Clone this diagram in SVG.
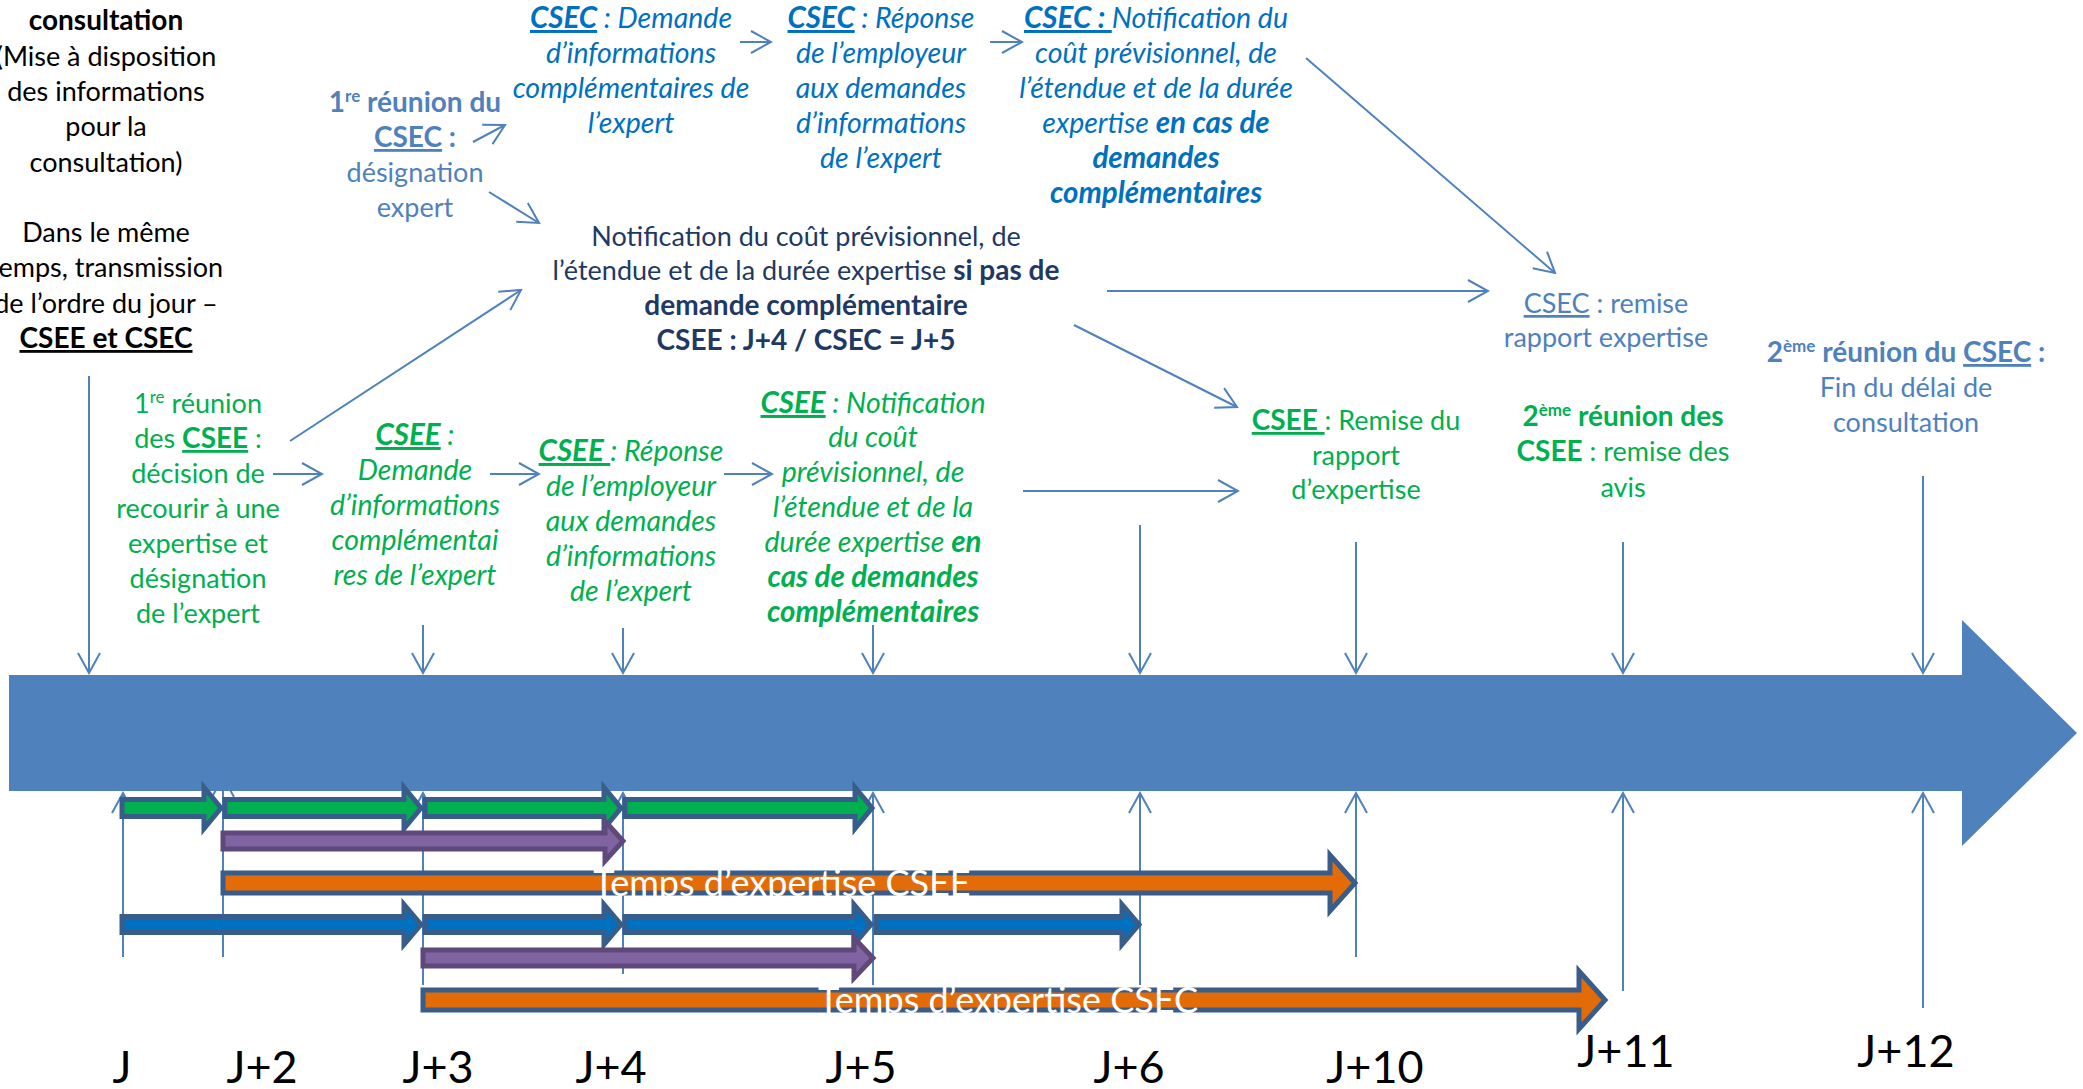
<svg xmlns="http://www.w3.org/2000/svg" width="2083" height="1089" viewBox="0 0 2083 1089">
<style>
text{font-family:Lato,"Open Sans","Liberation Sans",sans-serif;font-size:27px;text-anchor:middle}
.k{fill:#000}.sb{fill:#4F81BD}.cb{fill:#0070C0}.gr{fill:#00B050}.nv{fill:#1F3864}
.b{font-weight:bold;font-size:28px}.i{font-style:italic;font-size:28.5px}.i.b{font-size:29.5px}.u{text-decoration:underline}
.sup{font-size:17px}
.lbl{font-size:45px;fill:#000}
.tw{font-size:36px;fill:#fff}
.cn{stroke:#4F81BD;stroke-width:2;fill:none}
.ba{stroke:#385D8A;stroke-width:5;stroke-linejoin:miter}
.g{fill:#00B050}.p{fill:#8064A2;stroke:#5F497A}.o{fill:#E36C09}.bl{fill:#0070C0}
</style>
<defs>
<marker id="ah" markerUnits="userSpaceOnUse" markerWidth="24" markerHeight="24" viewBox="0 0 24 24" refX="22" refY="12" orient="auto">
<path d="M2,1 L22,12 L2,23" fill="none" stroke="#4F81BD" stroke-width="2"/>
</marker>
</defs>

<g id="timeline-bar">
<polygon points="9,675 1962,675 1962,620 2077,733 1962,846 1962,791 9,791" fill="#4F81BD"/>
</g>

<g id="connectors">
<line class="cn" x1="473" y1="142" x2="505" y2="125" marker-end="url(#ah)"/>
<line class="cn" x1="489" y1="192" x2="539" y2="223" marker-end="url(#ah)"/>
<line class="cn" x1="290" y1="441" x2="521" y2="290" marker-end="url(#ah)"/>
<line class="cn" x1="740" y1="42" x2="771" y2="42" marker-end="url(#ah)"/>
<line class="cn" x1="990" y1="42" x2="1022" y2="42" marker-end="url(#ah)"/>
<line class="cn" x1="1306" y1="58" x2="1555" y2="273" marker-end="url(#ah)"/>
<line class="cn" x1="1107" y1="291" x2="1488" y2="291" marker-end="url(#ah)"/>
<line class="cn" x1="1074" y1="325" x2="1237" y2="407" marker-end="url(#ah)"/>
<line class="cn" x1="273" y1="474" x2="322" y2="474" marker-end="url(#ah)"/>
<line class="cn" x1="490" y1="474" x2="539" y2="474" marker-end="url(#ah)"/>
<line class="cn" x1="724" y1="474" x2="772" y2="474" marker-end="url(#ah)"/>
<line class="cn" x1="1023" y1="491" x2="1238" y2="491" marker-end="url(#ah)"/>
<!-- down arrows onto bar -->
<line class="cn" x1="89" y1="376" x2="89" y2="673" marker-end="url(#ah)"/>
<line class="cn" x1="423" y1="625" x2="423" y2="673" marker-end="url(#ah)"/>
<line class="cn" x1="623" y1="628" x2="623" y2="673" marker-end="url(#ah)"/>
<line class="cn" x1="873" y1="625" x2="873" y2="673" marker-end="url(#ah)"/>
<line class="cn" x1="1140" y1="525" x2="1140" y2="673" marker-end="url(#ah)"/>
<line class="cn" x1="1356" y1="542" x2="1356" y2="673" marker-end="url(#ah)"/>
<line class="cn" x1="1623" y1="542" x2="1623" y2="673" marker-end="url(#ah)"/>
<line class="cn" x1="1923" y1="476" x2="1923" y2="673" marker-end="url(#ah)"/>
<!-- up arrows from below -->
<line class="cn" x1="123" y1="957" x2="123" y2="793" marker-end="url(#ah)"/>
<line class="cn" x1="223" y1="957" x2="223" y2="777" marker-end="url(#ah)"/>
<line class="cn" x1="423" y1="985" x2="423" y2="793" marker-end="url(#ah)"/>
<line class="cn" x1="623" y1="974" x2="623" y2="793" marker-end="url(#ah)"/>
<line class="cn" x1="873" y1="985" x2="873" y2="793" marker-end="url(#ah)"/>
<line class="cn" x1="1140" y1="985" x2="1140" y2="793" marker-end="url(#ah)"/>
<line class="cn" x1="1356" y1="957" x2="1356" y2="793" marker-end="url(#ah)"/>
<line class="cn" x1="1623" y1="991" x2="1623" y2="793" marker-end="url(#ah)"/>
<line class="cn" x1="1923" y1="1008" x2="1923" y2="793" marker-end="url(#ah)"/>
</g>

<g id="duration-arrows">
<!-- green row cy 808 -->
<polygon class="ba g" points="122,799.5 204,799.5 204,787.5 221,808 204,828.5 204,816.5 122,816.5"/>
<polygon class="ba g" points="225,799.5 404,799.5 404,787.5 421,808 404,828.5 404,816.5 225,816.5"/>
<polygon class="ba g" points="425,799.5 604,799.5 604,787.5 621,808 604,828.5 604,816.5 425,816.5"/>
<polygon class="ba g" points="625,799.5 855,799.5 855,787.5 872,808 855,828.5 855,816.5 625,816.5"/>
<!-- purple row 1 cy 841 -->
<polygon class="ba p" points="223,833 605,833 605,821 623,841 605,861 605,849 223,849"/>
<!-- orange CSEE cy 883 -->
<polygon class="ba o" points="223,873 1330,873 1330,855 1355,883 1330,911 1330,893 223,893"/>
<!-- blue row cy 924.5 -->
<polygon class="ba bl" points="122,916.5 404,916.5 404,904.5 421,924.5 404,944.5 404,932.5 122,932.5"/>
<polygon class="ba bl" points="425,916.5 604,916.5 604,904.5 621,924.5 604,944.5 604,932.5 425,932.5"/>
<polygon class="ba bl" points="625,916.5 854,916.5 854,904.5 871,924.5 854,944.5 854,932.5 625,932.5"/>
<polygon class="ba bl" points="876,916.5 1122,916.5 1122,904.5 1139,924.5 1122,944.5 1122,932.5 876,932.5"/>
<!-- purple row 2 cy 958 -->
<polygon class="ba p" points="423,950 854,950 854,938 873,958 854,978 854,966 423,966"/>
<!-- orange CSEC cy 1000 -->
<polygon class="ba o" points="423,990 1579,990 1579,971 1605,1000 1579,1029 1579,1010 423,1010"/>
<text class="tw" x="782" y="896">Temps d’expertise CSEE</text>
<text class="tw" x="1008" y="1013">Temps d’expertise CSEC</text>
</g>

<g id="node-consultation">
<text x="106" y="30" class="k b">consultation</text>
<text x="106" y="66" class="k">(Mise à disposition</text>
<text x="106" y="101" class="k">des informations</text>
<text x="106" y="136" class="k">pour la</text>
<text x="106" y="172" class="k">consultation)</text>
<text x="106" y="242" class="k">Dans le même</text>
<text x="106" y="277" class="k">temps, transmission</text>
<text x="106" y="313" class="k">de l’ordre du jour –</text>
<text x="106" y="348" class="k b u">CSEE et CSEC</text>
</g>

<g id="node-csec-reunion1">
<text x="415" y="112" class="sb b">1<tspan class="sup" dy="-10">re</tspan><tspan dy="10"> réunion du</tspan></text>
<text x="415" y="147" class="sb b"><tspan class="u">CSEC</tspan> :</text>
<text x="415" y="182" class="sb">désignation</text>
<text x="415" y="217" class="sb">expert</text>
</g>

<g id="node-csec-demande">
<text x="631" y="28" class="cb i"><tspan class="i b u">CSEC</tspan> : Demande</text>
<text x="631" y="63" class="cb i">d’informations</text>
<text x="631" y="98" class="cb i">complémentaires de</text>
<text x="631" y="133" class="cb i">l’expert</text>
</g>

<g id="node-csec-reponse">
<text x="881" y="28" class="cb i"><tspan class="i b u">CSEC</tspan> : Réponse</text>
<text x="881" y="63" class="cb i">de l’employeur</text>
<text x="881" y="98" class="cb i">aux demandes</text>
<text x="881" y="133" class="cb i">d’informations</text>
<text x="881" y="168" class="cb i">de l’expert</text>
</g>

<g id="node-csec-notification">
<text x="1156" y="28" class="cb i"><tspan class="i b u">CSEC : </tspan>Notification du</text>
<text x="1156" y="63" class="cb i">coût prévisionnel, de</text>
<text x="1156" y="98" class="cb i">l’étendue et de la  durée</text>
<text x="1156" y="133" class="cb i">expertise <tspan class="i b">en cas de</tspan></text>
<text x="1156" y="168" class="cb i b">demandes</text>
<text x="1156" y="203" class="cb i b">complémentaires</text>
</g>

<g id="node-notification">
<text x="806" y="246" class="nv">Notification du coût prévisionnel, de</text>
<text x="806" y="280" class="nv">l’étendue et de la durée expertise <tspan class="b">si pas de</tspan></text>
<text x="806" y="315" class="nv b">demande complémentaire</text>
<text x="806" y="350" class="nv b">CSEE : J+4 / CSEC = J+5</text>
</g>

<g id="node-csec-remise">
<text x="1606" y="313" class="sb"><tspan class="u">CSEC</tspan> : remise</text>
<text x="1606" y="347" class="sb">rapport expertise</text>
</g>

<g id="node-csec-reunion2">
<text x="1906" y="362" class="sb b">2<tspan class="sup" dy="-10">ème</tspan><tspan dy="10"> réunion du </tspan><tspan class="u">CSEC</tspan>  :</text>
<text x="1906" y="397" class="sb">Fin du délai de</text>
<text x="1906" y="432" class="sb">consultation</text>
</g>

<g id="node-csee-reunion2">
<text x="1623" y="426" class="gr b">2<tspan class="sup" dy="-10">ème</tspan><tspan dy="10">  réunion des</tspan></text>
<text x="1623" y="461" class="gr"><tspan class="b">CSEE</tspan> : remise des</text>
<text x="1623" y="497" class="gr">avis</text>
</g>

<g id="node-csee-remise">
<text x="1356" y="430" class="gr"><tspan class="b u">CSEE </tspan>: Remise du</text>
<text x="1356" y="465" class="gr">rapport</text>
<text x="1356" y="499" class="gr">d’expertise</text>
</g>

<g id="node-csee-reunion1">
<text x="198" y="413" class="gr">1<tspan class="sup" dy="-10">re</tspan><tspan dy="10"> réunion</tspan></text>
<text x="198" y="448" class="gr">des <tspan class="b u">CSEE</tspan> :</text>
<text x="198" y="483" class="gr">décision de</text>
<text x="198" y="518" class="gr">recourir à une</text>
<text x="198" y="553" class="gr">expertise et</text>
<text x="198" y="588" class="gr">désignation</text>
<text x="198" y="623" class="gr">de l’expert</text>
</g>

<g id="node-csee-demande">
<text x="415" y="445" class="gr i"><tspan class="i b u">CSEE</tspan> :</text>
<text x="415" y="480" class="gr i">Demande</text>
<text x="415" y="515" class="gr i">d’informations</text>
<text x="415" y="550" class="gr i">complémentai</text>
<text x="415" y="585" class="gr i">res de l’expert</text>
</g>

<g id="node-csee-reponse">
<text x="631" y="461" class="gr i"><tspan class="i b u">CSEE </tspan>: Réponse</text>
<text x="631" y="496" class="gr i">de l’employeur</text>
<text x="631" y="531" class="gr i">aux demandes</text>
<text x="631" y="566" class="gr i">d’informations</text>
<text x="631" y="601" class="gr i">de l’expert</text>
</g>

<g id="node-csee-notification">
<text x="873" y="413" class="gr i"><tspan class="i b u">CSEE</tspan> : Notification</text>
<text x="873" y="447" class="gr i">du coût</text>
<text x="873" y="482" class="gr i">prévisionnel, de</text>
<text x="873" y="517" class="gr i">l’étendue et de la</text>
<text x="873" y="552" class="gr i">durée expertise <tspan class="i b">en</tspan></text>
<text x="873" y="587" class="gr i b">cas de demandes</text>
<text x="873" y="622" class="gr i b">complémentaires</text>
</g>

<g id="day-labels">
<text class="lbl" x="122" y="1083">J</text>
<text class="lbl" x="262" y="1083">J+2</text>
<text class="lbl" x="438" y="1083">J+3</text>
<text class="lbl" x="611" y="1083">J+4</text>
<text class="lbl" x="861" y="1083">J+5</text>
<text class="lbl" x="1129" y="1083">J+6</text>
<text class="lbl" x="1375" y="1083">J+10</text>
<text class="lbl" x="1626" y="1067">J+11</text>
<text class="lbl" x="1906" y="1067">J+12</text>
</g>
</svg>
